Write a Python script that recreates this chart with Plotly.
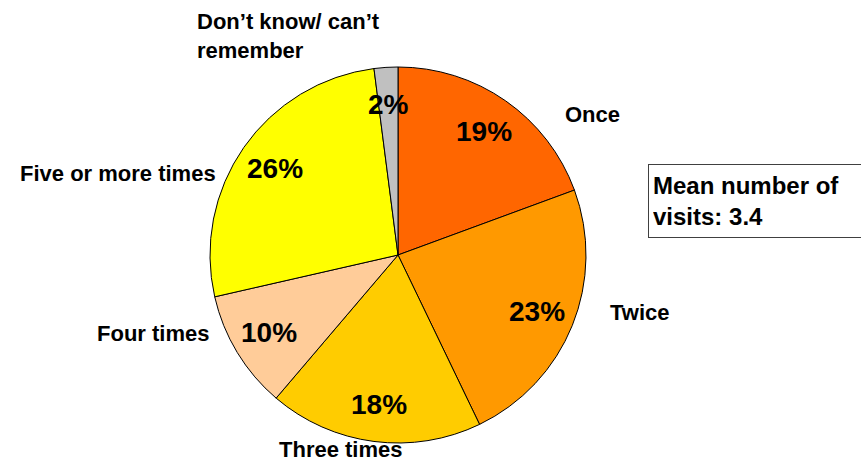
import math
import plotly.graph_objects as go

W, H = 861, 461

categories = ["Once", "Twice", "Three times", "Four times", "Five or more times", "Don\u2019t know/ can\u2019t remember"]
values = [19, 23, 18, 10, 26, 2]
colors = ["#FF6600", "#FF9900", "#FFCC00", "#FFCC99", "#FFFF00", "#C0C0C0"]
mean_text = "Mean number of<br>visits: 3.4"

FONT = "Liberation Sans, Arial, sans-serif"

# pie geometry (pixels)
cx, cy, R = 398, 255, 188

def px(x):
    return x / W

def py(y):
    return 1 - y / H

fig = go.Figure(go.Pie(
    labels=categories,
    values=values,
    marker=dict(colors=colors, line=dict(color="black", width=1)),
    sort=False,
    direction="clockwise",
    rotation=0,
    textinfo="none",
    hoverinfo="label+value",
    showlegend=False,
    domain=dict(x=[px(cx - R), px(cx + R)], y=[py(cy + R), py(cy - R)]),
))

annotations = []

# percentage labels at slice mid-angles, computed from data
total = sum(values)
cum = 0
for v in values:
    mid = (cum + v / 2) / total * 2 * math.pi
    cum += v
    r = 0.8 * R
    x = cx + r * math.sin(mid)
    y = cy - r * math.cos(mid)
    annotations.append(dict(
        x=px(x), y=py(y), xref="paper", yref="paper",
        text=f"<b>{v}%</b>", showarrow=False,
        font=dict(family=FONT, size=28, color="black"),
        xanchor="center", yanchor="middle",
    ))

# outer category labels (layout positions, pixels)
label_layout = [
    ("Once", 563, 114, "left"),
    ("Twice", 608, 312, "left"),
    ("Three times", 341, 449, "center"),
    ("Four times", 211, 333, "right"),
    ("Five or more times", 218, 173, "right"),
    ("Don\u2019t know/ can\u2019t<br>remember", 195, 36, "left"),
]
for text, x, y, anchor in label_layout:
    annotations.append(dict(
        x=px(x), y=py(y), xref="paper", yref="paper",
        text=f"<b>{text}</b>", showarrow=False, align="left",
        font=dict(family=FONT, size=22, color="black"),
        xanchor=anchor, yanchor="middle",
    ))

# mean box (extends past the right edge as in the reference)
annotations.append(dict(
    x=px(648), y=py(164), xref="paper", yref="paper",
    text=f"<b>{mean_text}</b>", showarrow=False, align="left",
    font=dict(family=FONT, size=24, color="black"),
    xanchor="left", yanchor="top",
    width=270, height=64,
    bordercolor="#404040", borderwidth=1, borderpad=4,
    bgcolor="white",
))

fig.update_layout(
    width=W, height=H,
    margin=dict(l=0, r=0, t=0, b=0),
    paper_bgcolor="white",
    plot_bgcolor="white",
    annotations=annotations,
)

fig.write_html("out.html")
